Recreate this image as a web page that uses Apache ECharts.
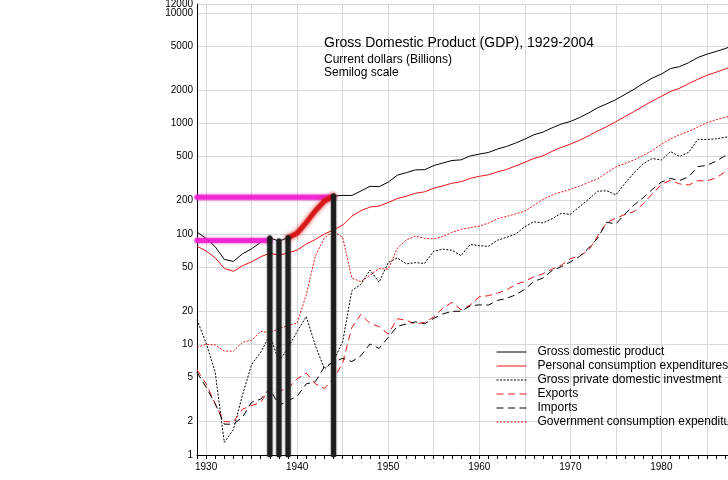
<!DOCTYPE html>
<html><head><meta charset="utf-8">
<script src="https://cdn.jsdelivr.net/npm/echarts@6/dist/echarts.min.js"></script>
<style>html,body{margin:0;padding:0;background:#fff}#c{width:728px;height:480px}</style>
</head><body><div id="c"></div>
<script>
const years = [1929,1930,1931,1932,1933,1934,1935,1936,1937,1938,1939,1940,1941,1942,1943,1944,1945,1946,1947,1948,1949,1950,1951,1952,1953,1954,1955,1956,1957,1958,1959,1960,1961,1962,1963,1964,1965,1966,1967,1968,1969,1970,1971,1972,1973,1974,1975,1976,1977,1978,1979,1980,1981,1982,1983,1984,1985,1986,1987,1988,1989,1990,1991,1992,1993,1994,1995,1996,1997,1998,1999,2000,2001,2002,2003,2004];
const gdp = [103.6,91.2,76.5,58.7,56.4,66.0,73.3,83.8,91.9,86.1,92.2,101.4,126.7,161.9,198.6,219.8,223.1,222.3,244.2,269.2,267.3,293.8,339.3,358.3,379.4,380.4,414.8,437.5,461.1,467.2,506.6,526.4,544.7,585.6,617.7,663.6,719.1,787.8,832.6,910.0,984.6,1038.5,1127.1,1238.3,1382.7,1500.0,1638.3,1825.3,2030.9,2294.7,2563.3,2789.5,3128.4,3255.0,3536.7,3933.2,4220.3,4462.8,4739.5,5103.8,5484.4,5803.1,5995.9,6337.7,6657.4,7072.2,7397.7,7816.9,8304.3,8747.0,9268.4,9817.0,10128.0,10469.6,10960.8,11712.5];
const pce = [77.4,70.0,60.7,48.7,45.9,51.5,55.9,62.2,66.8,64.3,67.2,71.3,81.1,89.0,99.9,108.6,120.0,144.3,162.0,175.0,178.5,192.2,208.5,219.5,233.1,240.0,258.8,271.7,286.9,296.2,317.6,331.7,342.1,363.3,382.7,411.5,443.8,480.9,507.8,558.0,605.1,648.3,701.6,770.2,852.0,932.9,1033.8,1151.3,1277.8,1427.6,1591.2,1755.8,1939.5,2075.5,2288.6,2501.1,2717.6,2896.7,3097.0,3350.1,3594.5,3835.5,3980.1,4236.9,4483.6,4750.8,4987.3,5273.6,5570.6,5918.5,6342.8,6830.4,7148.8,7439.2,7804.0,8285.1];
const investment = [16.7,10.3,5.6,1.3,1.7,3.5,6.6,8.5,12.2,7.0,9.3,13.1,17.9,9.8,6.0,7.1,10.6,30.6,35.0,47.1,36.5,55.1,60.5,53.5,54.9,54.1,69.7,72.7,71.1,63.6,80.2,78.2,77.1,87.6,93.1,99.6,116.2,128.6,125.7,137.0,153.2,150.2,176.0,205.6,242.9,245.6,225.4,286.6,356.6,430.8,480.9,465.9,556.2,501.1,547.1,715.6,715.1,722.5,747.2,773.9,829.2,799.7,736.2,790.4,877.1,1007.9,1046.1,1160.2,1317.7,1438.4,1558.0,1679.0,1629.4,1544.6,1630.2,1869.6];
const exportsV = [5.9,4.4,2.9,2.0,2.0,2.6,2.8,3.0,4.0,3.8,4.0,4.9,5.5,4.4,4.0,4.9,6.8,14.2,18.7,15.5,14.5,12.4,17.1,16.5,15.3,15.8,17.7,21.3,24.0,20.6,22.7,27.0,27.6,29.1,31.1,35.0,37.1,40.9,43.5,47.9,51.9,59.7,63.0,70.8,95.3,126.7,138.7,149.5,159.4,186.9,230.1,280.8,305.2,283.2,277.0,302.4,302.0,320.3,363.8,443.9,503.1,552.1,596.6,635.0,655.6,720.7,811.9,867.7,954.4,953.9,989.3,1093.2,1027.7,1003.0,1041.0,1177.6];
const importsV = [5.6,4.1,2.9,1.9,1.9,2.2,3.0,3.2,4.0,2.8,3.1,3.4,4.4,4.6,6.3,6.9,7.5,7.0,7.9,10.1,9.2,11.6,14.6,15.3,16.0,15.4,17.2,18.9,19.9,20.0,22.3,22.8,22.7,25.0,26.1,28.1,31.5,37.1,39.9,46.6,50.5,55.8,62.3,74.2,91.2,127.5,122.7,151.1,182.4,212.3,252.7,293.8,317.8,303.2,328.6,405.1,417.2,453.3,509.1,554.5,591.5,630.3,624.3,668.6,720.9,814.5,903.6,964.8,1056.9,1115.9,1251.7,1475.8,1399.8,1430.3,1540.2,1797.8];
const government = [9.4,10.0,9.9,8.7,8.7,10.5,10.9,13.1,12.8,13.9,14.8,15.6,28.1,63.2,92.4,105.3,93.1,39.9,36.9,42.3,48.6,47.9,74.4,88.2,95.5,91.0,90.1,94.6,103.2,109.9,114.0,117.5,125.2,136.9,143.8,151.8,160.6,181.2,204.8,225.2,239.0,252.6,270.0,291.6,314.7,357.1,403.1,433.3,466.0,510.6,566.1,646.4,722.0,789.2,845.8,924.6,1011.2,1076.8,1134.4,1170.0,1249.0,1337.4,1409.3,1452.6,1496.3,1543.8,1584.4,1620.8,1691.8,1756.6,1864.5,1986.6,2093.1,2217.1,2385.5,2542.2];
const seriesNames = ['Gross domestic product','Personal consumption expenditures','Gross private domestic investment','Exports','Imports','Government consumption expenditures and gross investment'];
const yGridValues = [1,2,5,10,20,50,100,200,500,1000,2000,5000,10000,12000];
const yLabelValues = [1,2,5,10,20,50,100,200,500,1000,2000,5000,10000];
const yTopLabel = [12000];
const xLabelYears = [1930,1940,1950,1960,1970,1980,1990,2000];
const xGridYears = [1930,1935,1940,1945,1950,1955,1960,1965,1970,1975,1980,1985,1990,1995,2000,2005];
const xTickYears = years.concat([2005]);
// hand-drawn marker annotations on the reference
const markLowLevel = 87, markHighLevel = 214;
const markLowYears = [1929, 1937], markHighYears = [1929, 1944];
const strokeYears = [1937, 1938, 1939, 1944];
const highlightYears = [1939, 1940, 1941, 1942, 1943, 1944];

const pairs = arr => years.map((y, i) => [y, arr[i]]);
const RED = '#e8141c';
const mk = (name, data, color, type) => ({
  name, type: 'line', data: pairs(data), symbol: 'none', xAxisIndex: 0, yAxisIndex: 0,
  lineStyle: { color, width: 1, type }, itemStyle: { color }, z: 3
});
const series = [
  mk(seriesNames[0], gdp, '#000', 'solid'),
  mk(seriesNames[1], pce, RED, 'solid'),
  mk(seriesNames[2], investment, '#000', [2, 1.5]),
  mk(seriesNames[3], exportsV, RED, [7, 4.5]),
  mk(seriesNames[4], importsV, '#000', [7, 4.5]),
  mk(seriesNames[5], government, RED, [2, 1.5])
];
const annot = (data, color, width, blur, opacity) => ({
  type: 'line', data, symbol: 'none', silent: true, z: 5, xAxisIndex: 0, yAxisIndex: 0,
  lineStyle: { color, width, opacity, cap: 'round', shadowBlur: blur, shadowColor: color }
});
series.push(annot([[markLowYears[0], markLowLevel], [markLowYears[1], markLowLevel]], '#f020d0', 5, 3, 0.85));
series.push(annot([[markHighYears[0], markHighLevel], [markHighYears[1], markHighLevel]], '#f020d0', 5, 3, 0.85));
series.push(annot(highlightYears.map(y => [y, gdp[years.indexOf(y)]]), '#d81010', 5, 4, 0.85));
strokeYears.forEach(y => series.push(annot([[y, gdp[years.indexOf(y)]], [y, 1]], '#1c1c1c', 5, 2, 0.92)));

const yLabelStyle = { fontSize: 10, color: '#000', margin: 4, fontFamily: 'Liberation Sans', formatter: v => String(Math.round(v)) };
const chart = echarts.init(document.getElementById('c'), null, { renderer: 'canvas' });
chart.setOption({
  animation: false,
  backgroundColor: '#fff',
  textStyle: { fontFamily: 'Liberation Sans, Arial, sans-serif' },
  title: {
    text: 'Gross Domestic Product (GDP), 1929-2004',
    subtext: 'Current dollars (Billions)\nSemilog scale',
    left: 319, top: 31, itemGap: 3,
    textStyle: { fontSize: 14, fontWeight: 'normal', color: '#000', fontFamily: 'Liberation Sans' },
    subtextStyle: { fontSize: 12, color: '#000', lineHeight: 13, fontFamily: 'Liberation Sans' }
  },
  legend: {
    data: seriesNames, orient: 'vertical', left: 496, top: 346, padding: 0,
    itemWidth: 30, itemHeight: 12, itemGap: 2,
    itemStyle: { opacity: 0 }, lineStyle: { width: 1 },
    textStyle: { fontSize: 12, color: '#000', padding: [0, 0, 0, 6], fontFamily: 'Liberation Sans' }
  },
  grid: { left: 197, top: 4, bottom: 25, width: 692, outerBoundsMode: 'none', containLabel: false },
  xAxis: [{
    type: 'value', min: 1929, max: 2005,
    axisLine: { show: true, lineStyle: { color: '#000', width: 1 } },
    axisTick: { show: true, length: 4, customValues: xTickYears, lineStyle: { color: '#000' } },
    axisLabel: { customValues: xLabelYears, fontSize: 10, color: '#000', margin: 7, fontFamily: 'Liberation Sans', formatter: v => String(v) },
    splitLine: { show: false }
  }, {
    type: 'value', min: 1929, max: 2005, position: 'bottom',
    axisLine: { show: false }, axisLabel: { show: false },
    axisTick: { show: false, customValues: xGridYears },
    splitLine: { show: true, lineStyle: { color: '#d9d9d9', width: 1 } }
  }],
  yAxis: [{
    type: 'log', logBase: 10, min: 1, max: 12000,
    axisLine: { show: true, lineStyle: { color: '#000', width: 1 } },
    axisTick: { show: false, customValues: yGridValues },
    axisLabel: Object.assign({ customValues: yLabelValues }, yLabelStyle),
    splitLine: { show: true, lineStyle: { color: '#d9d9d9', width: 1 } }
  }, {
    type: 'log', logBase: 10, min: 1, max: 12000, position: 'left',
    axisLine: { show: false }, splitLine: { show: false },
    axisTick: { show: false, customValues: yTopLabel },
    axisLabel: Object.assign({ customValues: yTopLabel }, yLabelStyle)
  }],
  series
});
</script></body></html>
